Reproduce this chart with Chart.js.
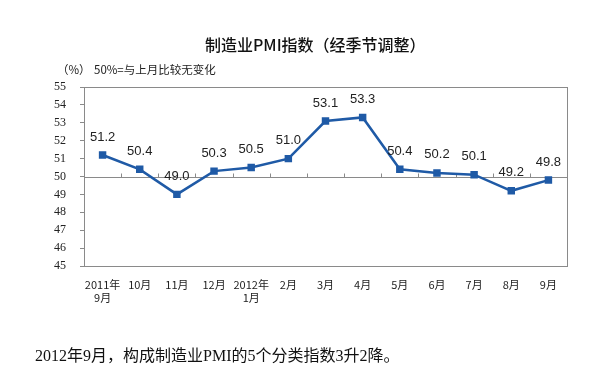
<!DOCTYPE html>
<html>
<head>
<meta charset="utf-8">
<script src="https://cdn.jsdelivr.net/npm/chart.js@4"></script>
<style>
  body { margin: 0; background: #fff; }
  #wrap { position: relative; width: 593px; height: 375px; overflow: hidden; }
  canvas { position: absolute; left: 0; top: 0; }
  .txt { position: absolute; white-space: nowrap; color: #111; }
  #title { left: 205px; top: 32px; font: 500 16px "Noto Sans CJK SC", sans-serif; }
  #unit { left: 57px; top: 61px; font: 11.5px "Noto Sans CJK SC", sans-serif; color: #222; }
  #note { left: 94px; top: 61px; font: 11.5px "Noto Sans CJK SC", sans-serif; color: #222; }
  #footer { left: 35px; top: 342px; font: 16px "Liberation Serif", "Noto Sans CJK SC", serif; }
</style>
</head>
<body>
<div id="wrap">
  <canvas id="pmiChart" width="593" height="375"></canvas>
  <div class="txt" id="title">制造业PMI指数（经季节调整）</div>
  <div class="txt" id="unit">（%）</div>
  <div class="txt" id="note">50%=与上月比较无变化</div>
  <div class="txt" id="footer">2012年9月，构成制造业PMI的5个分类指数3升2降。</div>
</div>
<script>
// kategorie (mesice) a hodnoty PMI
const months = [
    ['2011年', '9月'], '10月', '11月', '12月', ['2012年', '1月'], '2月',
    '3月', '4月', '5月', '6月', '7月', '8月', '9月'
];
const pmiValues = [51.2, 50.4, 49.0, 50.3, 50.5, 51.0, 53.1, 53.3, 50.4, 50.2, 50.1, 49.2, 49.8];
const yMin = 45;
const yMax = 55;
const baseLine = 50; // 50% = beze zmeny

const lineColor = '#1f5aa6';
const axisColor = '#8a8a8a';

// ramecek, cara na 50 a znacky mezi mesici
const framePlugin = {
    id: 'frame',
    beforeDatasetsDraw(chart) {
        const { ctx, chartArea, scales } = chart;
        const y50 = Math.round(scales.y.getPixelForValue(baseLine)) + 0.5;
        ctx.save();
        ctx.strokeStyle = axisColor;
        ctx.lineWidth = 1;
        ctx.strokeRect(chartArea.left + 0.5, chartArea.top + 0.5,
            chartArea.right - chartArea.left, chartArea.bottom - chartArea.top);
        ctx.beginPath();
        ctx.moveTo(chartArea.left, y50);
        ctx.lineTo(chartArea.right, y50);
        for (let i = 1; i < months.length; i++) {
            const x = Math.round((scales.x.getPixelForTick(i - 1) + scales.x.getPixelForTick(i)) / 2) + 0.5;
            ctx.moveTo(x, y50);
            ctx.lineTo(x, y50 - 4);
        }
        ctx.stroke();
        ctx.restore();
    },
    afterDatasetsDraw(chart) {
        // popisky hodnot nad body
        const { ctx } = chart;
        const meta = chart.getDatasetMeta(0);
        ctx.save();
        ctx.font = '13px "Liberation Sans", Arial, sans-serif';
        ctx.fillStyle = '#222';
        ctx.textAlign = 'center';
        ctx.textBaseline = 'middle';
        meta.data.forEach((pt, i) => {
            ctx.fillText(pmiValues[i].toFixed(1), pt.x, pt.y - 18);
        });
        ctx.restore();
    }
};

const ctx = document.getElementById('pmiChart').getContext('2d');
new Chart(ctx, {
    type: 'line',
    data: {
        labels: months,
        datasets: [{
            data: pmiValues,
            borderColor: lineColor,
            backgroundColor: lineColor,
            borderWidth: 2.5,
            pointStyle: 'rect',
            pointRadius: 3.5,
            pointHoverRadius: 3.5,
            tension: 0
        }]
    },
    options: {
        responsive: false,
        animation: false,
        devicePixelRatio: 1,
        layout: { padding: { left: 0, top: 87, right: 26, bottom: 69 } },
        plugins: {
            legend: { display: false },
            tooltip: { enabled: false }
        },
        scales: {
            x: {
                offset: true,
                grid: { display: false },
                border: { display: false },
                ticks: {
                    color: '#222',
                    font: { family: '"Noto Sans CJK SC", sans-serif', size: 11 },
                    padding: 4,
                    maxRotation: 0,
                    autoSkip: false
                },
                afterFit(scale) { scale.height = 40; }
            },
            y: {
                min: yMin,
                max: yMax,
                grid: { drawOnChartArea: false, drawTicks: true, tickLength: 4, color: axisColor },
                border: { display: false },
                ticks: {
                    stepSize: 1,
                    color: '#222',
                    font: { family: '"Liberation Serif", serif', size: 12 },
                    padding: 14
                },
                afterFit(scale) { scale.width = 84; }
            }
        }
    },
    plugins: [framePlugin]
});
</script>
</body>
</html>
